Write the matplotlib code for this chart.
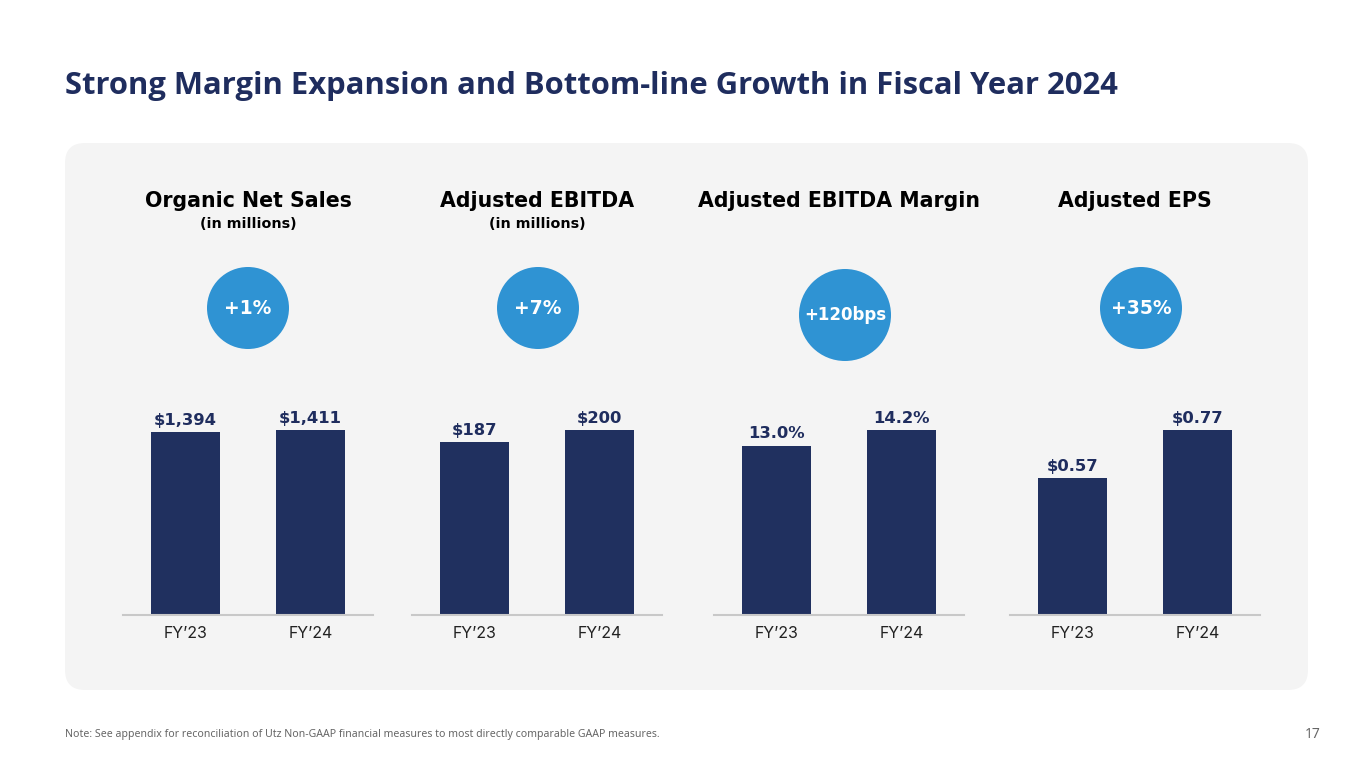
import matplotlib.pyplot as plt
from matplotlib.patches import FancyBboxPatch, Circle

# data
periods = ["FY\u201923", "FY\u201924"]
headings = ["Organic Net Sales", "Adjusted EBITDA", "Adjusted EBITDA Margin", "Adjusted EPS"]
subheadings = ["(in millions)", "(in millions)", "", ""]
growth = ["+1%", "+7%", "+120bps", "+35%"]
net_sales = [1394, 1411]
ebitda = [187, 200]
ebitda_margin = [13.0, 14.2]
eps = [0.57, 0.77]
labels_sales = ["$1,394", "$1,411"]
labels_ebitda = ["$187", "$200"]
labels_margin = ["13.0%", "14.2%"]
labels_eps = ["$0.57", "$0.77"]

NAVY = "#1f2d5e"
BAR = "#20305f"
BLUE = "#2f93d3"
PANEL = "#f4f4f4"
BOLD = "DejaVu Sans"

W, H = 1365, 768
fig = plt.figure(figsize=(W / 100, H / 100), dpi=100)
fig.patch.set_facecolor("white")

# background layer in pixel coordinates
bg = fig.add_axes([0, 0, 1, 1], zorder=0)
bg.set_xlim(0, W)
bg.set_ylim(H, 0)
bg.axis("off")

bg.add_patch(FancyBboxPatch((65, 143), 1243, 547, boxstyle="round,pad=0,rounding_size=20",
                            facecolor=PANEL, edgecolor="none"))

bg.text(65, 86, "Strong Margin Expansion and Bottom-line Growth in Fiscal Year 2024",
        fontfamily="Open Sans", fontweight="bold", fontsize=22.3, color=NAVY,
        ha="left", va="center")
bg.text(65, 734, "Note: See appendix for reconciliation of Utz Non-GAAP financial measures to most directly comparable GAAP measures.",
        fontfamily="Noto Sans", fontsize=7.6, color="#666666", ha="left", va="center")
bg.text(1321, 735, "17", fontfamily="Noto Sans", fontsize=10, color="#666666", ha="right", va="center")

centers = [248, 537, 839, 1135]
circles = [(248, 308, 41), (538, 308, 41), (845, 315, 46), (1141, 308, 41)]
series = [net_sales, ebitda, ebitda_margin, eps]
value_labels = [labels_sales, labels_ebitda, labels_margin, labels_eps]

for i, cx in enumerate(centers):
    bg.text(cx, 201, headings[i], fontfamily=BOLD, fontweight="bold", fontsize=14.8,
            color="black", ha="center", va="center")
    if subheadings[i]:
        bg.text(cx, 224, subheadings[i], fontfamily=BOLD, fontweight="bold", fontsize=10.3,
                color="black", ha="center", va="center")
    x, y, r = circles[i]
    bg.add_patch(Circle((x, y), r, facecolor=BLUE, edgecolor="none"))
    bg.text(x, y, growth[i], fontfamily=BOLD, fontweight="bold",
            fontsize=13.5 if len(growth[i]) < 5 else 12, color="white", ha="center", va="center")

    # bar panel: 250px wide, baseline at y=615, tallest bar 185px
    ax = fig.add_axes([(cx - 125) / W, (H - 615) / H, 250 / W, 185 / H], zorder=1)
    ax.patch.set_alpha(0)
    vals = series[i]
    ax.bar(range(len(vals)), vals, width=0.552, color=BAR)
    ax.set_xlim(-0.5, 1.5)
    ax.set_ylim(0, max(vals))
    for j, v in enumerate(vals):
        ax.annotate(value_labels[i][j], (j, v), xytext=(0, 3), textcoords="offset points",
                    ha="center", va="bottom", fontfamily=BOLD, fontweight="bold",
                    fontsize=11.8, color=NAVY, annotation_clip=False)
    for s in ["top", "right", "left"]:
        ax.spines[s].set_visible(False)
    ax.spines["bottom"].set_color("#c8c8c8")
    ax.spines["bottom"].set_linewidth(1.5)
    ax.set_yticks([])
    ax.set_xticks(range(len(vals)))
    ax.set_xticklabels(periods, fontfamily="Inter", fontsize=11.5, color="#222222")
    ax.tick_params(axis="x", length=0, pad=8)

fig.savefig("out.png", dpi=100)
